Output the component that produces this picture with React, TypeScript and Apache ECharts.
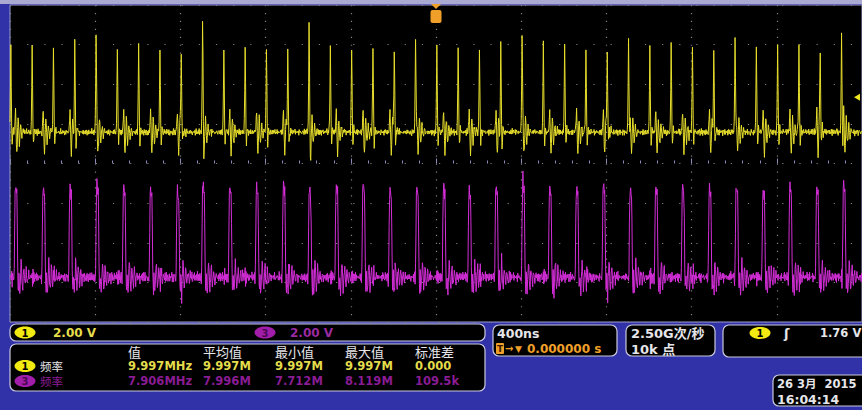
import React, { useEffect, useRef } from "react";
import * as echarts from "echarts";

// ---- time base (ns) ----
const TIME_MIN_NS = -2000;
const TIME_MAX_NS = 2000;
const TIME_DIV_NS = 400;
const SAMPLE_STEP_NS = 2;

// ---- channel scales ----
const CH1_VOLTS_PER_DIV = 2;
const CH3_VOLTS_PER_DIV = 2;
const CH1_OFFSET_DIV = 0.79;
const CH3_OFFSET_DIV = -2.87;
const TRIGGER_LEVEL_V = 1.76;
const TRIGGER_TIME_NS = 0;

// ---- CH1 (yellow) pulses ----
const CH1_SPIKE_TIMES_NS = [
  -1997, -1897, -1797, -1697, -1597, -1497, -1397, -1297, -1197, -1097,
  -997, -897, -797, -697, -597, -497, -397, -297, -197, -97,
  3, 103, 203, 303, 403, 503, 603, 703, 803, 903,
  1003, 1103, 1203, 1303, 1403, 1503, 1603, 1703, 1803, 1903,
];
const CH1_SPIKE_PEAKS_V = [
  4.29, 4.39, 4.29, 4.49, 4.6, 4.29, 4.49, 4.19, 4.49, 4.85,
  4.24, 4.39, 4.19, 4.49, 4.7, 4.34, 4.29, 4.39, 4.55, 4.75,
  4.39, 4.29, 4.19, 4.39, 4.75, 4.44, 4.49, 4.19, 4.49, 4.75,
  4.34, 4.49, 4.19, 4.49, 4.75, 4.34, 4.34, 4.29, 4.34, 4.85,
];
// pulse shape (fraction of peak), from -6 ns in 2 ns steps
const CH1_PULSE_START_NS = -6;
const CH1_PULSE_SHAPE = [0.0, 0.12, 0.5, 1.0, 0.55, 0.05, -0.15, -0.06, 0.06, 0.02];
// crosstalk seen on CH1 at each CH3 edge (V), from -2 ns
const CH1_XTALK_START_NS = -2;
const CH1_XTALK_V = [
  0.2, 0.7, 1.1, 0.4, -0.6, -1.1, -0.6, 0.2, 0.7, 0.45, -0.2, -0.55, -0.35, 0.1,
  0.35, 0.2, -0.1, -0.25, -0.1, 0.1, 0.15, 0.05, -0.05, 0,
];
const CH1_NOISE_V = 0.22;

// ---- CH3 (magenta) pulses ----
const CH3_SPIKE_TIMES_NS = [
  -1977, -1846, -1720, -1594, -1469, -1343, -1217, -1096, -970, -844,
  -718, -597, -471, -345, -219, -93, 33, 154, 280, 406,
  531, 657, 783, 909, 1030, 1156, 1282, 1408, 1534, 1660,
  1786, 1911,
];
const CH3_SPIKE_PEAKS_V = [
  4.65, 4.55, 4.55, 4.8, 4.65, 4.49, 4.39, 4.8, 4.65, 4.55,
  4.75, 4.55, 4.65, 4.75, 4.49, 4.6, 4.7, 4.44, 4.65, 4.8,
  4.55, 4.6, 4.7, 4.49, 4.65, 4.75, 4.55, 4.65, 4.44, 4.7,
  4.6, 4.75,
];
const CH3_PULSE_START_NS = -6;
const CH3_PULSE_SHAPE = [-0.05, 0.1, 0.55, 0.9, 1.0, 0.96, 0.9, 0.93, 0.6, 0.15, -0.1, -0.15];
const CH3_RING_START_NS = 18;
const CH3_RING_V = [
  0.2, -0.5, -0.8, -0.35, 0.3, 0.75, 0.5, -0.1, -0.6, -0.5, 0.0, 0.45, 0.4, -0.05,
  -0.35, -0.3, 0.05, 0.3, 0.2, -0.1, -0.25, -0.1, 0.1, 0.15, 0.05, -0.1, 0,
];
const CH3_XTALK_START_NS = 0;
const CH3_XTALK_V = [0.2, -0.35, 0.3, -0.2, 0.1, 0];
const CH3_NOISE_V = 0.34;

// baseline fuzz (normalised)
const NOISE_A = [
  0.3, -0.5, 0.8, -0.2, -0.9, 0.4, 0.1, -0.6, 0.7, -0.3, 0.5, -0.8, 0.2, 0.9, -0.4,
  -0.1, 0.6, -0.7, 0.3, -0.2, 0.8, -0.5, -0.9, 0.4, 0.2, -0.3, 0.7, -0.6, 0.1, 0.5,
  -0.8, 0.3, -0.1, 0.9, -0.4, 0.6, -0.7, 0.2, -0.5, 0.8, -0.3, 0.1, -0.9, 0.4, 0.7,
  -0.2, 0.5, -0.6, 0.3, -0.8, 0.6, -0.1, 0.2,
];
const NOISE_B = [
  -0.4, 0.6, 0.1, -0.7, 0.9, -0.2, -0.5, 0.3, 0.8, -0.9, 0.2, 0.4, -0.6, -0.1, 0.7,
  -0.3, 0.5, -0.8, 0.0, 0.6, -0.4, 0.9, -0.7, 0.1, -0.2, 0.8, -0.5, 0.3, -0.9, 0.4,
  0.6, -0.1, -0.6, 0.7, -0.3, 0.2, 0.5, -0.8, 0.1, 0.9, -0.4, -0.2, 0.6, -0.7, 0.3,
  0.0, -0.5,
];

// ---- readouts ----
const MEAS_HEADERS = ["值", "平均值", "最小值", "最大值", "标准差"];
const CH1_MEAS = ["9.997MHz", "9.997M", "9.997M", "9.997M", "0.000"];
const CH3_MEAS = ["7.906MHz", "7.996M", "7.712M", "8.119M", "109.5k"];
const MEAS_NAME = "频率";
const CH_SCALE_TEXT = "2.00 V";
const TIMEBASE_TEXT = "400ns";
const DELAY_TEXT = "0.000000 s";
const SAMPLE_RATE_TEXT = "2.50G次/秒";
const RECORD_TEXT = "10k 点";
const TRIG_TEXT = "1.76 V";
const DATE_TEXT = "26 3月  2015";
const TIME_TEXT = "16:04:14";

function buildTrace(
  spikes: number[], peaks: number[], shapeStart: number, shape: number[],
  ringStart: number, ring: number[],
  xtTimes: number[], xtStart: number, xt: number[],
  noiseAmp: number, phase: number, offsetDiv: number, vPerDiv: number,
) {
  const n = Math.round((TIME_MAX_NS - TIME_MIN_NS) / SAMPLE_STEP_NS) + 1;
  const v: number[] = [];
  for (let i = 0; i < n; i++) {
    v.push(noiseAmp * (0.6 * NOISE_A[(i + phase) % NOISE_A.length] + 0.4 * NOISE_B[(i + phase * 3) % NOISE_B.length]));
  }
  const add = (t0: number, start: number, arr: number[], scale: number) => {
    const base = Math.round((t0 + start - TIME_MIN_NS) / SAMPLE_STEP_NS);
    arr.forEach((a, j) => {
      const k = base + j;
      if (k >= 0 && k < n) v[k] += a * scale;
    });
  };
  spikes.forEach((t, s) => {
    add(t, shapeStart, shape, peaks[s]);
    if (ring.length) add(t, ringStart, ring, 1);
  });
  xtTimes.forEach((t) => add(t, xtStart, xt, 1));
  return v.map((val, i) => [TIME_MIN_NS + i * SAMPLE_STEP_NS, val / vPerDiv + offsetDiv]);
}

const FONT = '"DejaVu Sans", "Noto Sans CJK SC", sans-serif';
const CJK = '"Noto Sans CJK SC", "DejaVu Sans", sans-serif';
const WHITE = "#e6e6ea";
const YEL = "#e4dc4a";
const MAG = "#8a1c94";
const ORANGE = "#f0a028";

function txt(text: string, x: number, y: number, fill: string, size = 12, family = FONT, weight = "bold", align = "left") {
  return {
    type: "text", z: 110,
    style: {
      text, x, y, fill,
      font: `${weight} ${size}px ${family}`,
      textAlign: align, textVerticalAlign: "middle", align, verticalAlign: "middle",
    },
  };
}
function box(x: number, y: number, w: number, h: number) {
  return {
    type: "rect", z: 100,
    shape: { x, y, width: w, height: h, r: 6 },
    style: { fill: "#000", stroke: "#c8c8dc", lineWidth: 1.2 },
  };
}
function badge(cx: number, cy: number, label: string, fill: string, textFill: string) {
  return [
    { type: "ellipse", z: 105, shape: { cx, cy, rx: 10.5, ry: 6 }, style: { fill } },
    txt(label, cx, cy + 0.5, textFill, 10, FONT, "bold", "center"),
  ];
}

export default function App() {
  const ref = useRef<HTMLDivElement>(null);
  useEffect(() => {
    if (!ref.current) return;
    const chart = echarts.init(ref.current, undefined, { renderer: "svg" });
    const ch1 = buildTrace(
      CH1_SPIKE_TIMES_NS, CH1_SPIKE_PEAKS_V, CH1_PULSE_START_NS, CH1_PULSE_SHAPE,
      0, [], CH3_SPIKE_TIMES_NS, CH1_XTALK_START_NS, CH1_XTALK_V,
      CH1_NOISE_V, 0, CH1_OFFSET_DIV, CH1_VOLTS_PER_DIV,
    );
    const ch3 = buildTrace(
      CH3_SPIKE_TIMES_NS, CH3_SPIKE_PEAKS_V, CH3_PULSE_START_NS, CH3_PULSE_SHAPE,
      CH3_RING_START_NS, CH3_RING_V, CH1_SPIKE_TIMES_NS, CH3_XTALK_START_NS, CH3_XTALK_V,
      CH3_NOISE_V, 17, CH3_OFFSET_DIV, CH3_VOLTS_PER_DIV,
    );
    const trigDiv = TRIGGER_LEVEL_V / CH1_VOLTS_PER_DIV + CH1_OFFSET_DIV;

    const cols = [128, 203, 275, 345, 415];
    const graphic: any[] = [
      { type: "rect", z: 90, shape: { x: 0, y: 0, width: 862, height: 4 }, style: { fill: "#a9a9d2" } },
      // channel scale bar
      box(10, 324, 475, 17),
      ...badge(25, 332.5, "1", "#f2ea10", "#000"),
      txt(CH_SCALE_TEXT, 53, 333, YEL, 12),
      ...badge(265, 332.5, "3", "#a21eaa", "#4a0852"),
      txt(CH_SCALE_TEXT, 290, 333, "#9a2aa2", 12),
      // measurement table
      box(10, 344, 475, 47),
      ...MEAS_HEADERS.map((h, i) => txt(h, cols[i], 351, WHITE, 13, CJK, "normal")),
      ...badge(25, 366, "1", "#f2ea10", "#000"),
      txt(MEAS_NAME, 40, 366, WHITE, 11.5, CJK, "normal"),
      ...CH1_MEAS.map((m, i) => txt(m, cols[i], 366, YEL, 11.5)),
      ...badge(25, 381, "3", "#a21eaa", "#4a0852"),
      txt(MEAS_NAME, 40, 381, MAG, 11.5, CJK, "normal"),
      ...CH3_MEAS.map((m, i) => txt(m, cols[i], 381, MAG, 11.5)),
      // timebase
      box(493, 325, 124, 31),
      txt(TIMEBASE_TEXT, 497, 333, WHITE, 12.5),
      { type: "rect", z: 105, shape: { x: 496, y: 343, width: 8, height: 11, r: 1 }, style: { fill: ORANGE } },
      txt("T", 500, 348.5, "#3a1a00", 9, FONT, "bold", "center"),
      txt("→", 505, 348.5, ORANGE, 10),
      txt("▼", 515, 348.5, ORANGE, 9),
      txt(DELAY_TEXT, 527, 349, ORANGE, 12),
      // acquisition
      box(626, 325, 89, 31),
      txt(SAMPLE_RATE_TEXT, 631, 333, WHITE, 13),
      txt(RECORD_TEXT, 631, 349, WHITE, 13),
      // trigger
      box(723, 325, 150, 32),
      ...badge(760, 333, "1", "#f2ea10", "#000"),
      txt("ʃ", 784, 333, WHITE, 13),
      txt(TRIG_TEXT, 820, 333, WHITE, 11.5),
      // date
      box(773, 375, 100, 31),
      txt(DATE_TEXT, 777, 384, WHITE, 11.5),
      txt(TIME_TEXT, 777, 399, WHITE, 12.5),
    ];

    chart.setOption({
      animation: false,
      backgroundColor: "#3232a8",
      grid: {
        left: 10, top: 5, width: 858, height: 317, show: true,
        backgroundColor: "#000", borderColor: "#9a9ad0", borderWidth: 1,
      },
      xAxis: {
        type: "value", min: TIME_MIN_NS, max: TIME_MAX_NS, interval: TIME_DIV_NS,
        axisLabel: { show: false },
        axisLine: { show: false },
        axisTick: { show: true, inside: true, length: 5, lineStyle: { color: "#8a8ab8" } },
        minorTick: { show: true, splitNumber: 5, length: 3, lineStyle: { color: "#8a8ab8" } },
        splitLine: { show: true, lineStyle: { color: "#808080", width: 1.2, type: [1.2, 6.725] } },
      },
      yAxis: {
        type: "value", min: -4, max: 4, interval: 1,
        axisLabel: { show: false }, axisLine: { show: false }, axisTick: { show: false },
        splitLine: { show: true, lineStyle: { color: "#808080", width: 1.2, type: [1.2, 15.96] } },
      },
      series: [
        {
          name: "CH3", type: "line", data: ch3, showSymbol: false, symbol: "none",
          lineStyle: { color: "#d22ed6", width: 1 }, z: 3,
        },
        {
          name: "CH1", type: "line", data: ch1, showSymbol: false, symbol: "none",
          lineStyle: { color: "#e6dd2c", width: 1 }, z: 4,
          markPoint: {
            silent: true, animation: false,
            data: [
              {
                coord: [TIME_MAX_NS, trigDiv], symbol: "triangle", symbolRotate: 90, symbolSize: [7, 6],
                symbolOffset: [-5, 0], itemStyle: { color: "#f0e820" }, label: { show: false },
              },
            ],
          },
        },
      ],
      graphic,
    });

    // trigger-position "T" marker placed through the x scale
    const tx = chart.convertToPixel({ xAxisIndex: 0 }, TRIGGER_TIME_NS) as number;
    chart.setOption({
      graphic: [
        ...graphic,
        { type: "polygon", z: 120, shape: { points: [[tx - 5, 4], [tx + 5, 4], [tx, 9]] }, style: { fill: ORANGE } },
        { type: "rect", z: 120, shape: { x: tx - 5.5, y: 10, width: 11, height: 13, r: 2 }, style: { fill: ORANGE } },
        txt("T", tx, 17, "#2a1400", 11, FONT, "bold", "center"),
      ],
    });
    return () => chart.dispose();
  }, []);
  return <div ref={ref} style={{ position: "fixed", left: 0, top: 0, width: 862, height: 410 }} />;
}
